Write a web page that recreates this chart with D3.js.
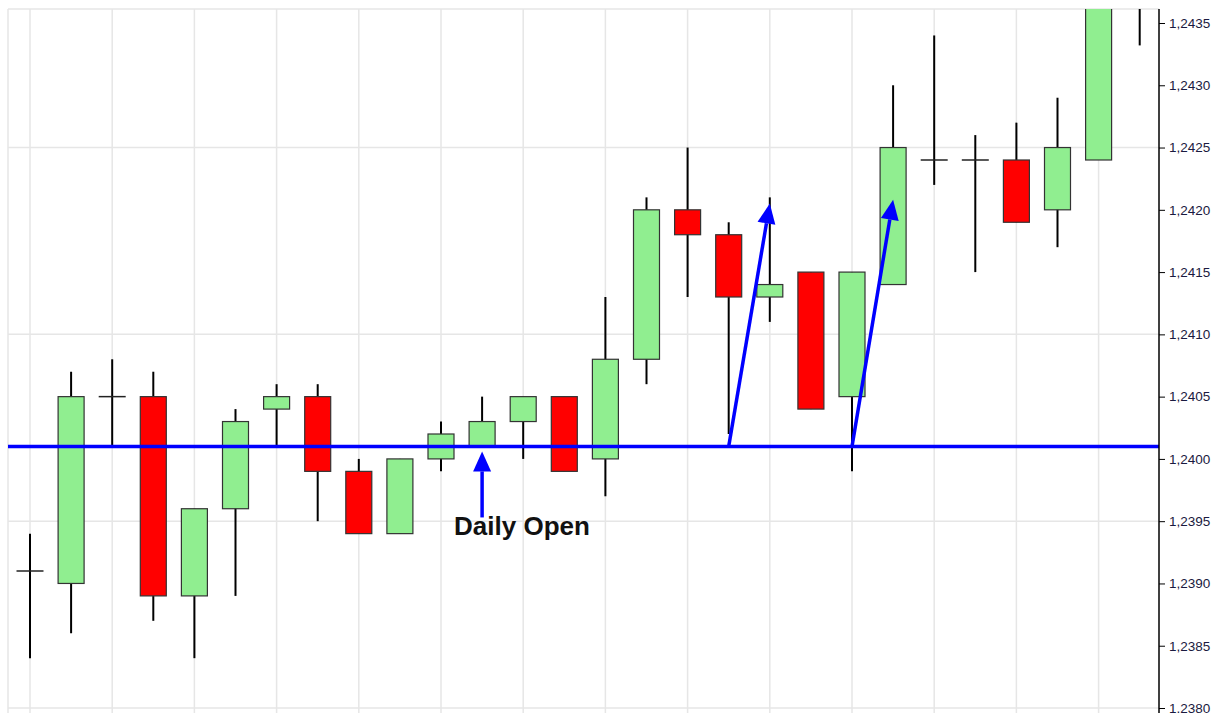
<!DOCTYPE html>
<html>
<head>
<meta charset="utf-8">
<script src="https://cdn.jsdelivr.net/npm/d3@7"></script>
<style>
  html, body { margin: 0; padding: 0; background: #fff; }
  #chart { width: 1216px; height: 713px; }
</style>
</head>
<body>
<div id="chart"></div>
<script>
// candle values (left to right)
const opens  = [1.2391, 1.2390, 1.2405, 1.2405, 1.2389, 1.2396, 1.2404, 1.2405, 1.2399, 1.2394,
                1.2400, 1.2401, 1.2403, 1.2405, 1.2400, 1.2408, 1.2420, 1.2418, 1.2413, 1.2415,
                1.2405, 1.2414, 1.2424, 1.2424, 1.2424, 1.2420, 1.2424, 1.2445];
const highs  = [1.2394, 1.2407, 1.2408, 1.2407, 1.2396, 1.2404, 1.2406, 1.2406, 1.2400, 1.2400,
                1.2403, 1.2405, 1.2405, 1.2405, 1.2413, 1.2421, 1.2425, 1.2419, 1.2421, 1.2415,
                1.2415, 1.2430, 1.2434, 1.2426, 1.2427, 1.2429, 1.2445, 1.2450];
const lows   = [1.2384, 1.2386, 1.2401, 1.2387, 1.2384, 1.2389, 1.2401, 1.2395, 1.2394, 1.2394,
                1.2399, 1.2401, 1.2400, 1.2399, 1.2397, 1.2406, 1.2413, 1.2402, 1.2411, 1.2404,
                1.2399, 1.2414, 1.2422, 1.2415, 1.2419, 1.2417, 1.2424, 1.24332];
const closes = [1.2391, 1.2405, 1.2405, 1.2389, 1.2396, 1.2403, 1.2405, 1.2399, 1.2394, 1.2400,
                1.2402, 1.2403, 1.2405, 1.2399, 1.2408, 1.2420, 1.2418, 1.2413, 1.2414, 1.2404,
                1.2415, 1.2425, 1.2424, 1.2424, 1.2419, 1.2425, 1.2442, 1.2440];

const yTicks = [1.2380, 1.2385, 1.2390, 1.2395, 1.2400, 1.2405, 1.2410, 1.2415, 1.2420, 1.2425, 1.2430, 1.2435];
const yGrid = [1.2380, 1.2395, 1.2410, 1.2425];
const dailyOpen = 1.2401;

// arrows: [from candle, from price, to candle, to price]
const arrows = [
  [11, 1.23953, 11, 1.24006],
  [17, 1.2401, 18, 1.24205],
  [20, 1.2401, 21, 1.24208]
];

const width = 1216, height = 713;
const plot = { left: 8, right: 1159, top: 9, bottom: 713 };

const svg = d3.select('#chart').append('svg')
  .attr('width', width)
  .attr('height', height)
  .style('display', 'block')
  .style('font-family', 'Arial, "Liberation Sans", sans-serif');

const x = d3.scaleLinear().domain([0, 27]).range([30, 1139.7]);
const y = d3.scaleLinear().domain([1.2380, 1.2435]).range([708, 23]);

svg.append('defs').append('clipPath').attr('id', 'plotclip')
  .append('rect')
  .attr('x', plot.left).attr('y', plot.top)
  .attr('width', plot.right - plot.left).attr('height', plot.bottom - plot.top);

// grid
const grid = svg.append('g').attr('stroke', '#e6e6e6').attr('stroke-width', 1.5);
grid.selectAll('line.v')
  .data(d3.range(0, 28, 2))
  .join('line')
  .attr('x1', d => x(d)).attr('x2', d => x(d))
  .attr('y1', plot.top).attr('y2', plot.bottom);
grid.selectAll('line.h')
  .data(yGrid)
  .join('line')
  .attr('x1', plot.left).attr('x2', plot.right)
  .attr('y1', d => y(d)).attr('y2', d => y(d));
// frame top / left
grid.append('line').attr('x1', plot.left).attr('x2', plot.right).attr('y1', plot.top).attr('y2', plot.top);
grid.append('line').attr('x1', plot.left).attr('x2', plot.left).attr('y1', plot.top).attr('y2', plot.bottom);

const main = svg.append('g').attr('clip-path', 'url(#plotclip)');

const candles = opens.map((o, i) => ({ i, o, h: highs[i], l: lows[i], c: closes[i] }));
const bodyW = 26;

// wicks
main.append('g').selectAll('line')
  .data(candles)
  .join('line')
  .attr('x1', d => x(d.i)).attr('x2', d => x(d.i))
  .attr('y1', d => y(d.h)).attr('y2', d => y(d.l))
  .attr('stroke', '#000').attr('stroke-width', 2);

// bodies
main.append('g').selectAll('rect')
  .data(candles.filter(d => d.o !== d.c))
  .join('rect')
  .attr('x', d => x(d.i) - bodyW / 2)
  .attr('y', d => y(Math.max(d.o, d.c)))
  .attr('width', bodyW)
  .attr('height', d => Math.abs(y(d.o) - y(d.c)))
  .attr('fill', d => d.c > d.o ? '#90ee90' : '#ff0000')
  .attr('stroke', '#333')
  .attr('stroke-width', 1.2);

// doji ticks
main.append('g').selectAll('line')
  .data(candles.filter(d => d.o === d.c))
  .join('line')
  .attr('x1', d => x(d.i) - 13.5).attr('x2', d => x(d.i) + 13.5)
  .attr('y1', d => y(d.o)).attr('y2', d => y(d.o))
  .attr('stroke', '#222').attr('stroke-width', 1.5);

// daily open line
main.append('line')
  .attr('x1', plot.left).attr('x2', plot.right)
  .attr('y1', y(dailyOpen)).attr('y2', y(dailyOpen))
  .attr('stroke', '#0000ff').attr('stroke-width', 3.5);

// arrows
const arrowG = main.append('g');
arrows.forEach(([i0, p0, i1, p1]) => {
  const x0 = x(i0), y0 = y(p0), x1 = x(i1), y1 = y(p1);
  const ang = Math.atan2(y1 - y0, x1 - x0);
  const headLen = 20, headW = 9;
  const bx = x1 - headLen * Math.cos(ang), by = y1 - headLen * Math.sin(ang);
  arrowG.append('line')
    .attr('x1', x0).attr('y1', y0).attr('x2', bx).attr('y2', by)
    .attr('stroke', '#0000ff').attr('stroke-width', 3.5);
  const px = -Math.sin(ang), py = Math.cos(ang);
  arrowG.append('path')
    .attr('d', `M${x1},${y1}L${bx + px * headW},${by + py * headW}L${bx - px * headW},${by - py * headW}Z`)
    .attr('fill', '#0000ff');
});

// label
svg.append('text')
  .attr('x', x(11) - 28)
  .attr('y', y(1.2395) + 14)
  .attr('font-size', 26)
  .attr('font-weight', 'bold')
  .attr('fill', '#111')
  .text('Daily Open');

// right axis
const axis = svg.append('g')
  .attr('transform', `translate(${plot.right},0)`)
  .call(d3.axisRight(y).tickValues(yTicks).tickSize(6).tickPadding(4)
    .tickFormat(d => d.toFixed(4).replace('.', ',')));
axis.select('.domain').attr('d', `M0,${plot.top}V${plot.bottom}`).attr('stroke', '#000').attr('stroke-width', 1.5);
axis.selectAll('.tick line').attr('stroke', '#000');
axis.selectAll('.tick text')
  .attr('font-size', 13.5)
  .attr('font-family', 'Arial, "Liberation Sans", sans-serif')
  .attr('fill', '#1a1a40');
</script>
</body>
</html>
